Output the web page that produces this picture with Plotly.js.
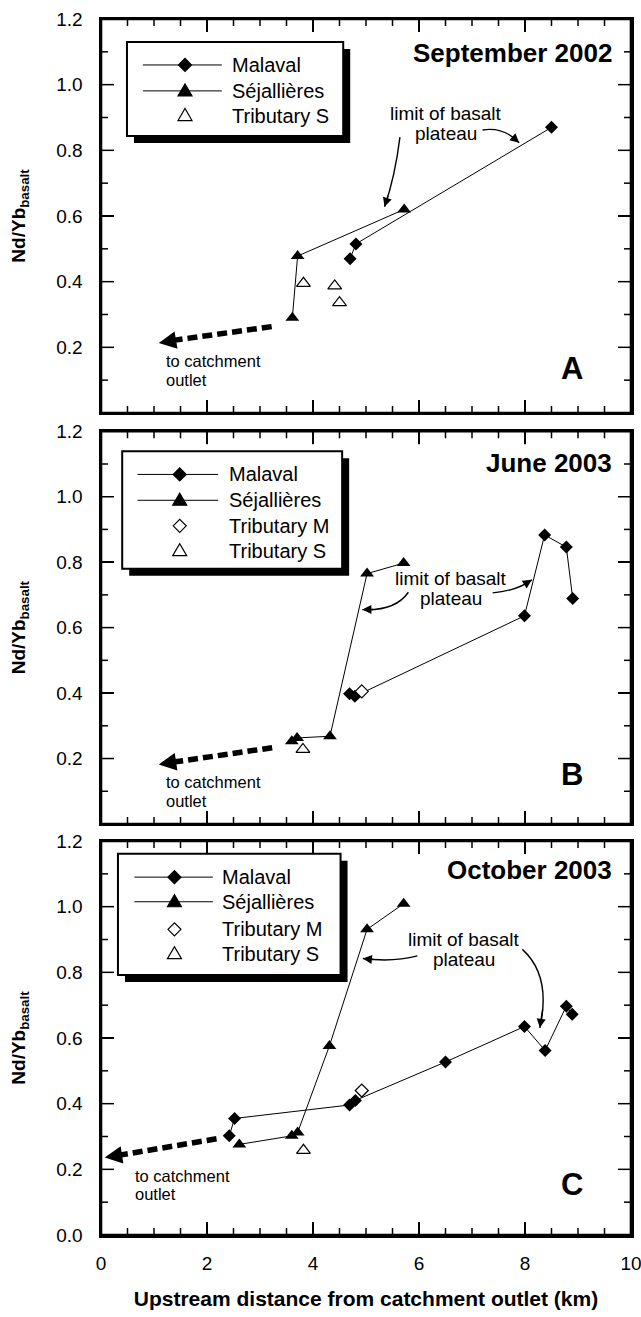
<!DOCTYPE html>
<html><head><meta charset="utf-8">
<script src="https://cdn.plot.ly/plotly-3.0.1.min.js"></script>
<style>html,body{margin:0;padding:0;background:#fff}#chart{width:641px;height:1317px}</style>
</head><body><div id="chart"></div>
<script>
// ---------- data ----------
const seriesNames = ['Malaval', 'Séjallières', 'Tributary M', 'Tributary S'];
const panelTitles = ['September 2002', 'June 2003', 'October 2003'];
const panelLetters = ['A', 'B', 'C'];

// Panel A – September 2002
const malavalA_x = [4.70, 4.81, 8.50];
const malavalA_y = [0.470, 0.515, 0.870];
const sejA_x = [3.61, 3.71, 5.72];
const sejA_y = [0.290, 0.478, 0.620];
const tribSA_x = [3.82, 4.41, 4.50];
const tribSA_y = [0.395, 0.387, 0.336];

// Panel B – June 2003
const malavalB_x = [4.69, 4.79, 7.99, 8.37, 8.78, 8.90];
const malavalB_y = [0.398, 0.390, 0.636, 0.883, 0.846, 0.689];
const sejB_x = [3.60, 3.70, 4.32, 5.02, 5.71];
const sejB_y = [0.253, 0.263, 0.268, 0.765, 0.797];
const tribMB_x = [4.92];
const tribMB_y = [0.405];
const tribSB_x = [3.81];
const tribSB_y = [0.228];

// Panel C – October 2003
const malavalC_x = [2.42, 2.52, 4.69, 4.80, 6.50, 7.99, 8.38, 8.78, 8.89];
const malavalC_y = [0.302, 0.355, 0.396, 0.410, 0.527, 0.635, 0.562, 0.697, 0.672];
const sejC_x = [2.61, 3.60, 3.71, 4.31, 5.02, 5.71];
const sejC_y = [0.276, 0.302, 0.312, 0.576, 0.931, 1.009];
const tribMC_x = [4.92];
const tribMC_y = [0.440];
const tribSC_x = [3.82];
const tribSC_y = [0.258];

const xTickVals = [0, 2, 4, 6, 8, 10];
const xTickLabels = ['0', '2', '4', '6', '8', '10'];
const yTickVals = [0, 0.2, 0.4, 0.6, 0.8, 1.0, 1.2];
const yTickLabelsAB = ['', '0.2', '0.4', '0.6', '0.8', '1.0', '1.2'];
const yTickLabelsC = ['0.0', '0.2', '0.4', '0.6', '0.8', '1.0', '1.2'];
const xTitle = 'Upstream distance from catchment outlet (km)';
const yTitle = 'Nd/Yb<sub>basalt</sub>';

// ---------- styling ----------
const FONT = 'Liberation Sans, Arial, Helvetica, sans-serif';
const PX_X = 53;    // pixels per x unit
const PX_Y = 328;   // pixels per y unit
const X_MAX = 10, Y_MAX = 1.2, X_MINOR = 0.5, Y_MINOR = 0.1;

const suffix = ['', '2', '3'];
const traces = [];
function lineTrace(p, name, xs, ys, symbol) {
  traces.push({
    type: 'scatter', mode: 'lines+markers', name: name, x: xs, y: ys,
    xaxis: 'x' + suffix[p], yaxis: 'y' + suffix[p], showlegend: false,
    line: {color: '#000', width: 1},
    marker: {symbol: symbol, size: symbol === 'diamond' ? 10 : 12, color: '#000'},
    cliponaxis: false
  });
}
function openTrace(p, name, xs, ys, symbol) {
  traces.push({
    type: 'scatter', mode: 'markers', name: name, x: xs, y: ys,
    xaxis: 'x' + suffix[p], yaxis: 'y' + suffix[p], showlegend: false,
    marker: {symbol: symbol, size: symbol === 'diamond' ? 10 : 12, color: '#fff',
             line: {color: '#000', width: 1.2}},
    cliponaxis: false
  });
}
lineTrace(0, seriesNames[0], malavalA_x, malavalA_y, 'diamond');
lineTrace(0, seriesNames[1], sejA_x, sejA_y, 'triangle-up');
openTrace(0, seriesNames[3], tribSA_x, tribSA_y, 'triangle-up');
lineTrace(1, seriesNames[0], malavalB_x, malavalB_y, 'diamond');
lineTrace(1, seriesNames[1], sejB_x, sejB_y, 'triangle-up');
openTrace(1, seriesNames[2], tribMB_x, tribMB_y, 'diamond');
openTrace(1, seriesNames[3], tribSB_x, tribSB_y, 'triangle-up');
lineTrace(2, seriesNames[0], malavalC_x, malavalC_y, 'diamond');
lineTrace(2, seriesNames[1], sejC_x, sejC_y, 'triangle-up');
openTrace(2, seriesNames[2], tribMC_x, tribMC_y, 'diamond');
openTrace(2, seriesNames[3], tribSC_x, tribSC_y, 'triangle-up');

const shapes = [];
const annotations = [];

function refs(p) { return {xref: 'x' + suffix[p], yref: 'y' + suffix[p]}; }

// ---------- frame and inside ticks on all four sides ----------
const near = (v, arr) => arr.some(a => Math.abs(a - v) < 1e-6);
for (let p = 0; p < 3; p++) {
  const r = refs(p);
  const tick = {color: '#000', width: 1.5};
  for (let i = 0; i <= Math.round(X_MAX / X_MINOR); i++) {
    const x = i * X_MINOR;
    const len = near(x, xTickVals) ? 13 : 7;
    shapes.push(Object.assign({type: 'line', x0: x, x1: x, ysizemode: 'pixel', yanchor: 0, y0: 0, y1: len, line: tick, layer: 'above'}, r));
    shapes.push(Object.assign({type: 'line', x0: x, x1: x, ysizemode: 'pixel', yanchor: Y_MAX, y0: 0, y1: -len, line: tick, layer: 'above'}, r));
  }
  for (let i = 0; i <= Math.round(Y_MAX / Y_MINOR); i++) {
    const y = i * Y_MINOR;
    const len = near(y, yTickVals) ? 13 : 7;
    shapes.push(Object.assign({type: 'line', y0: y, y1: y, xsizemode: 'pixel', xanchor: 0, x0: 0, x1: len, line: tick, layer: 'above'}, r));
    shapes.push(Object.assign({type: 'line', y0: y, y1: y, xsizemode: 'pixel', xanchor: X_MAX, x0: 0, x1: -len, line: tick, layer: 'above'}, r));
  }
  shapes.push({type: 'rect', xref: 'x' + suffix[p] + ' domain', yref: 'y' + suffix[p] + ' domain',
    x0: 0, x1: 1, y0: 0, y1: 1, line: {color: '#000', width: 2.6}, fillcolor: 'rgba(0,0,0,0)', layer: 'above'});
}

// ---------- legend boxes drawn inside each panel ----------
function diamondPath(cx, cy) {
  const dx = 6.5 / PX_X, dy = 6.5 / PX_Y;
  return `M${cx - dx},${cy} L${cx},${cy + dy} L${cx + dx},${cy} L${cx},${cy - dy} Z`;
}
function trianglePath(cx, cy) {
  const w = 7 / PX_X, b = 5 / PX_Y, t = 7 / PX_Y;
  return `M${cx - w},${cy - b} L${cx + w},${cy - b} L${cx},${cy + t} Z`;
}
function drawLegend(p, box, rows, lx0, lx1, mx, tx) {
  const r = refs(p);
  const sx = 7 / PX_X, sy = 7 / PX_Y;
  shapes.push(Object.assign({type: 'rect', x0: box[0] + sx, x1: box[1] + sx, y0: box[2] - sy, y1: box[3] - sy,
    fillcolor: '#000', line: {width: 0}, layer: 'above'}, r));
  shapes.push(Object.assign({type: 'rect', x0: box[0], x1: box[1], y0: box[2], y1: box[3],
    fillcolor: '#fff', line: {color: '#000', width: 2}, layer: 'above'}, r));
  rows.forEach(row => {
    const k = row.k;
    if (k < 2) {
      shapes.push(Object.assign({type: 'line', x0: lx0, x1: lx1, y0: row.y, y1: row.y,
        line: {color: '#000', width: 1}, layer: 'above'}, r));
    }
    const filled = k < 2;
    const path = (k === 0 || k === 2) ? diamondPath(mx, row.y) : trianglePath(mx, row.y);
    shapes.push(Object.assign({type: 'path', path: path, fillcolor: filled ? '#000' : '#fff',
      line: {color: '#000', width: 1.2}, layer: 'above'}, r));
    annotations.push(Object.assign({x: tx, y: row.y, text: seriesNames[k], showarrow: false,
      xanchor: 'left', yanchor: 'middle', font: {family: FONT, size: 20, color: '#000'}}, r));
  });
}
drawLegend(0, [0.49, 4.57, 0.844, 1.130], [{k: 0, y: 1.060}, {k: 1, y: 0.981}, {k: 3, y: 0.906}], 0.79, 2.28, 1.585, 2.44);
drawLegend(1, [0.40, 4.55, 0.780, 1.139], [{k: 0, y: 1.068}, {k: 1, y: 0.989}, {k: 2, y: 0.911}, {k: 3, y: 0.835}], 0.69, 2.21, 1.485, 2.38);
drawLegend(2, [0.32, 4.52, 0.792, 1.161], [{k: 0, y: 1.090}, {k: 1, y: 1.015}, {k: 2, y: 0.931}, {k: 3, y: 0.857}], 0.63, 2.11, 1.386, 2.24);

// ---------- panel titles and letters ----------
const titleY = [1.096, 1.104, 1.111];
const letterY = [0.137, 0.152, 0.154];
for (let p = 0; p < 3; p++) {
  const r = refs(p);
  annotations.push(Object.assign({x: 9.67, y: titleY[p], text: '<b>' + panelTitles[p] + '</b>', showarrow: false,
    xanchor: 'right', yanchor: 'middle', font: {family: FONT, size: 26, color: '#000'}}, r));
  annotations.push(Object.assign({x: 8.88, y: letterY[p], text: '<b>' + panelLetters[p] + '</b>', showarrow: false,
    xanchor: 'center', yanchor: 'middle', font: {family: FONT, size: 31, color: '#000'}}, r));
}

// ---------- "to catchment outlet" dashed arrows ----------
const outlet = [
  {x0: 3.22, y0: 0.263, x1: 1.40, y1: 0.222, tx: 1.09, ty: 0.213, lx: 1.19, ly: [0.157, 0.101]},
  {x0: 3.23, y0: 0.233, x1: 1.40, y1: 0.190, tx: 1.09, ty: 0.182, lx: 1.19, ly: [0.127, 0.071]},
  {x0: 2.18, y0: 0.293, x1: 0.38, y1: 0.244, tx: 0.07, ty: 0.236, lx: 0.60, ly: [0.180, 0.124]}
];
outlet.forEach((o, p) => {
  const r = refs(p);
  shapes.push(Object.assign({type: 'line', x0: o.x0, y0: o.y0, x1: o.x1, y1: o.y1,
    line: {color: '#000', width: 5.5, dash: '10px,5px'}}, r));
  annotations.push(Object.assign({x: o.tx, y: o.ty, ax: o.x1 + 0.05, ay: o.y1 + 0.001,
    axref: 'x' + suffix[p], ayref: 'y' + suffix[p], text: '', showarrow: true,
    arrowhead: 2, arrowsize: 1.0, arrowwidth: 3.5, arrowcolor: '#000'}, r));
  annotations.push(Object.assign({x: o.lx, y: o.ly[0], text: 'to catchment', showarrow: false,
    xanchor: 'left', yanchor: 'middle', font: {family: FONT, size: 16.5, color: '#000'}}, r));
  annotations.push(Object.assign({x: o.lx, y: o.ly[1], text: 'outlet', showarrow: false,
    xanchor: 'left', yanchor: 'middle', font: {family: FONT, size: 16.5, color: '#000'}}, r));
});

// ---------- "limit of basalt plateau" labels with curved arrows ----------
const limitText = [{x: 6.50, y: [0.912, 0.852]}, {x: 6.60, y: [0.749, 0.689]}, {x: 6.84, y: [0.900, 0.840]}];
const curves = [
  [[5.64, 0.840, 5.55, 0.72, 5.35, 0.628], [7.20, 0.862, 7.60, 0.872, 7.89, 0.823]],
  [[5.80, 0.708, 5.55, 0.650, 4.93, 0.655], [7.39, 0.706, 7.85, 0.713, 8.13, 0.746]],
  [[5.97, 0.850, 5.50, 0.830, 4.94, 0.842], [7.95, 0.870, 8.50, 0.790, 8.28, 0.631]]
];
for (let p = 0; p < 3; p++) {
  const r = refs(p);
  annotations.push(Object.assign({x: limitText[p].x, y: limitText[p].y[0], text: 'limit of basalt', showarrow: false,
    xanchor: 'center', yanchor: 'middle', font: {family: FONT, size: 19, color: '#000'}}, r));
  annotations.push(Object.assign({x: limitText[p].x, y: limitText[p].y[1], text: 'plateau', showarrow: false,
    xanchor: 'center', yanchor: 'middle', font: {family: FONT, size: 19, color: '#000'}}, r));
  curves[p].forEach(c => {
    const [x0, y0, cx, cy, x1, y1] = c;
    shapes.push(Object.assign({type: 'path', path: `M${x0},${y0} Q${cx},${cy} ${x1},${y1}`,
      line: {color: '#000', width: 1.4}, fillcolor: 'rgba(0,0,0,0)'}, r));
    const t = 0.8;
    const bx = (1 - t) * (1 - t) * x0 + 2 * (1 - t) * t * cx + t * t * x1;
    const by = (1 - t) * (1 - t) * y0 + 2 * (1 - t) * t * cy + t * t * y1;
    annotations.push(Object.assign({x: x1, y: y1, ax: bx, ay: by, axref: 'x' + suffix[p], ayref: 'y' + suffix[p],
      text: '', showarrow: true, arrowhead: 2, arrowsize: 1.3, arrowwidth: 1.4, arrowcolor: '#000'}, r));
  });
}

// ---------- axes ----------
function xAxis(p) {
  return {
    domain: [0, 1], anchor: 'y' + suffix[p], range: [0, X_MAX], fixedrange: true,
    showline: true, linecolor: '#000', linewidth: 2.5, mirror: 'allticks',
    ticks: 'inside', ticklen: 13, tickwidth: 1.5, tickcolor: '#000',
    tickmode: 'array', tickvals: xTickVals, ticktext: xTickLabels,
    showticklabels: p === 2, ticklabelstandoff: 10, ticklabeloverflow: 'allow',
    tickfont: {family: FONT, size: 19, color: '#000'},
    showgrid: false, zeroline: false,
    title: p === 2 ? {text: '<b>' + xTitle + '</b>', font: {family: FONT, size: 21, color: '#000'}, standoff: 18} : {text: ''}
  };
}
const yDomains = [[0.676, 1], [0.338, 0.661], [0, 0.324]];
function yAxis(p) {
  return {
    domain: yDomains[p], anchor: 'x' + suffix[p], range: [0, Y_MAX], fixedrange: true,
    showline: true, linecolor: '#000', linewidth: 2.5, mirror: 'allticks',
    ticks: 'inside', ticklen: 13, tickwidth: 1.5, tickcolor: '#000',
    tickmode: 'array', tickvals: yTickVals, ticktext: p === 2 ? yTickLabelsC : yTickLabelsAB,
    ticklabelstandoff: 12, ticklabeloverflow: 'allow',
    tickfont: {family: FONT, size: 19, color: '#000'},
    showgrid: false, zeroline: false,
    title: {text: '<b>' + yTitle + '</b>', font: {family: FONT, size: 19, color: '#000'}, standoff: 26}
  };
}

const layout = {
  width: 641, height: 1317,
  margin: {l: 101, r: 10, t: 19, b: 82},
  paper_bgcolor: '#fff', plot_bgcolor: '#fff',
  showlegend: false,
  font: {family: FONT, color: '#000'},
  xaxis: xAxis(0), xaxis2: xAxis(1), xaxis3: xAxis(2),
  yaxis: yAxis(0), yaxis2: yAxis(1), yaxis3: yAxis(2),
  shapes: shapes, annotations: annotations
};

Plotly.newPlot('chart', traces, layout, {displayModeBar: false, staticPlot: true});
</script>
</body></html>
